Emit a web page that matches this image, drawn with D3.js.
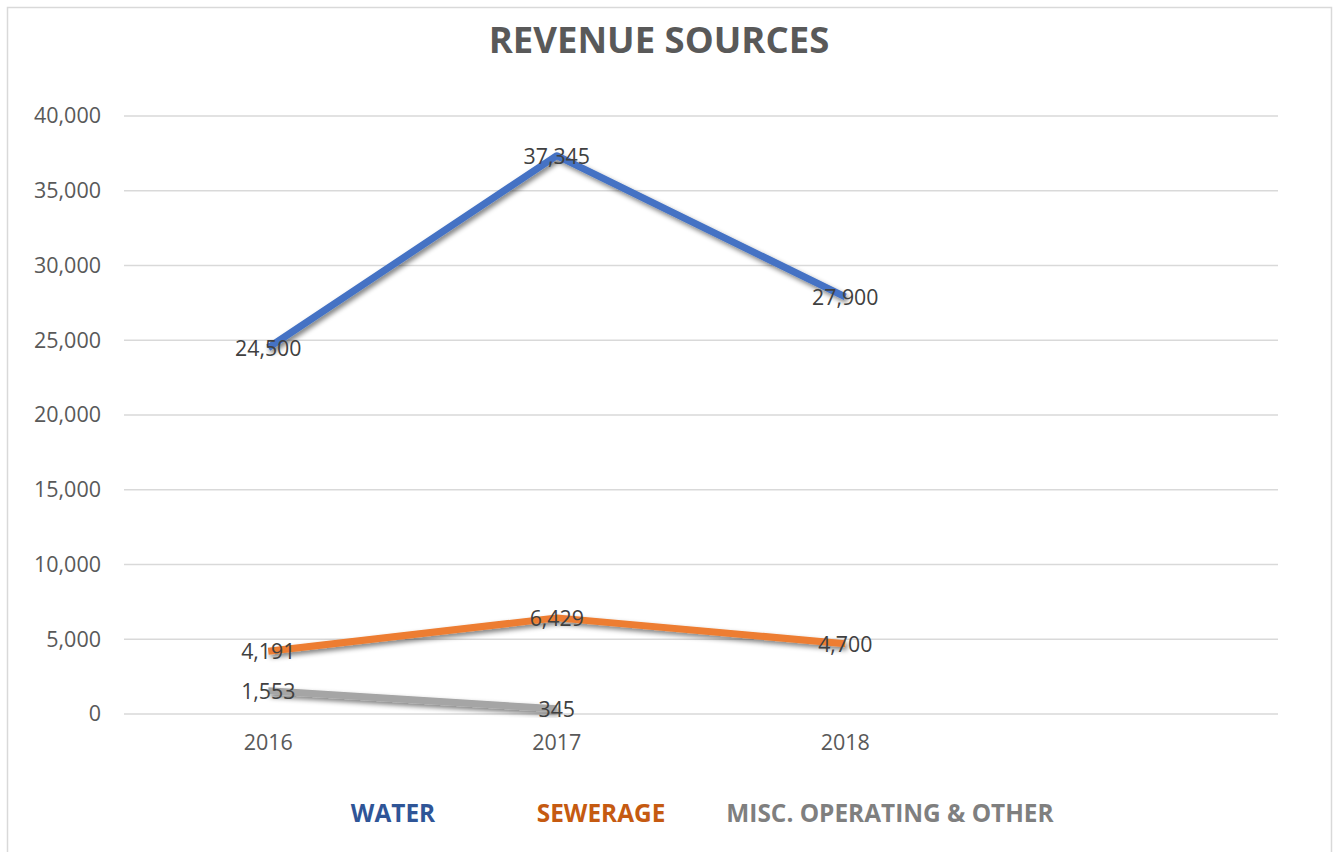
<!DOCTYPE html>
<html>
<head>
<meta charset="utf-8">
<script src="https://cdn.jsdelivr.net/npm/d3@7"></script>
<style>
  body { margin: 0; background: #fff; }
  text { font-family: "Open Sans", "Liberation Sans", sans-serif; }
</style>
</head>
<body>
<div id="chart"></div>
<script>
// Revenue sources line chart

var years = ["2016", "2017", "2018", ""];
var seriesNames = ["WATER", "SEWERAGE", "MISC. OPERATING & OTHER"];
var water = [24500, 37345, 27900];
var sewerage = [4191, 6429, 4700];
var misc = [1553, 345];
var yTicks = [0, 5000, 10000, 15000, 20000, 25000, 30000, 35000, 40000];

var lineColors = ["#4472C4", "#ED7D31", "#A5A5A5"];
var legendColors = ["#2F5597", "#C55A11", "#7F7F7F"];

var W = 1333, H = 852;
var margin = {top: 116, right: 55, bottom: 138, left: 124};
var width = W - margin.left - margin.right,
    height = H - margin.top - margin.bottom;

var svg = d3.select("#chart").append("svg")
    .attr("width", W)
    .attr("height", H);

// chart border
svg.append("rect")
    .attr("x", 7.5).attr("y", 7.5)
    .attr("width", 1324).attr("height", 860)
    .attr("fill", "none")
    .attr("stroke", "#d9d9d9")
    .attr("stroke-width", 1.5);

var defs = svg.append("defs");
var filt = defs.append("filter").attr("id", "shadow")
    .attr("x", "-10%").attr("y", "-50%").attr("width", "120%").attr("height", "200%");
filt.append("feGaussianBlur").attr("in", "SourceAlpha").attr("stdDeviation", 2.5).attr("result", "blur");
filt.append("feOffset").attr("dx", 2).attr("dy", 3).attr("result", "off");
filt.append("feComponentTransfer").append("feFuncA").attr("type", "linear").attr("slope", 0.5);
var merge = filt.append("feMerge");
merge.append("feMergeNode");
merge.append("feMergeNode").attr("in", "SourceGraphic");

svg.append("text")
    .attr("x", 659).attr("y", 53)
    .attr("text-anchor", "middle")
    .style("font-size", "36.5px")
    .style("font-weight", "bold")
    .style("fill", "#595959")
    .text("REVENUE SOURCES");

var g = svg.append("g")
    .attr("transform", "translate(" + margin.left + "," + margin.top + ")");

var x = d3.scaleBand().domain(years).range([0, width]);
var y = d3.scaleLinear().domain([0, 40000]).range([height, 0]);

// gridlines
g.selectAll("line.grid")
    .data(yTicks)
    .enter().append("line")
    .attr("class", "grid")
    .attr("x1", 0).attr("x2", width)
    .attr("y1", function(d) { return y(d); })
    .attr("y2", function(d) { return y(d); })
    .attr("stroke", "#d9d9d9")
    .attr("stroke-width", 1.5);

// y axis labels
var yAxis = g.append("g")
    .call(d3.axisLeft(y).tickValues(yTicks).tickSize(0).tickPadding(23).tickFormat(d3.format(",")));
yAxis.select(".domain").remove();
yAxis.selectAll("text")
    .style("font-size", "21.5px")
    .style("fill", "#595959")
    .style("font-family", "'Open Sans', 'Liberation Sans', sans-serif");

// x axis labels
var xAxis = g.append("g")
    .attr("transform", "translate(0," + height + ")")
    .call(d3.axisBottom(x).tickSize(0).tickPadding(21));
xAxis.select(".domain").remove();
xAxis.selectAll("text")
    .style("font-size", "21.5px")
    .style("fill", "#595959")
    .style("font-family", "'Open Sans', 'Liberation Sans', sans-serif");

var allSeries = [water, sewerage, misc];

var line = d3.line()
    .x(function(d, i) { return x(years[i]) + x.bandwidth() / 2; })
    .y(function(d) { return y(d); });

allSeries.forEach(function(s, k) {
    g.append("path")
        .datum(s)
        .attr("d", line)
        .attr("fill", "none")
        .attr("stroke", lineColors[k])
        .attr("stroke-width", 7)
        .attr("stroke-linejoin", "round")
        .attr("filter", "url(#shadow)");
});

allSeries.forEach(function(s, k) {
    g.selectAll("text.lbl" + k)
        .data(s)
        .enter().append("text")
        .attr("class", "lbl" + k)
        .attr("x", function(d, i) { return x(years[i]) + x.bandwidth() / 2; })
        .attr("y", function(d) { return y(d); })
        .attr("dy", "0.38em")
        .attr("text-anchor", "middle")
        .style("font-size", "21.3px")
        .style("fill", "#404040")
        .text(function(d) { return d3.format(",")(d); });
});

// legend
var legendX = [393, 601, 890];
svg.selectAll("text.legend")
    .data(seriesNames)
    .enter().append("text")
    .attr("class", "legend")
    .attr("x", function(d, i) { return legendX[i]; })
    .attr("y", 822)
    .attr("text-anchor", "middle")
    .style("font-size", "24.4px")
    .style("font-weight", "bold")
    .style("fill", function(d, i) { return legendColors[i]; })
    .text(function(d) { return d; });
</script>
</body>
</html>
